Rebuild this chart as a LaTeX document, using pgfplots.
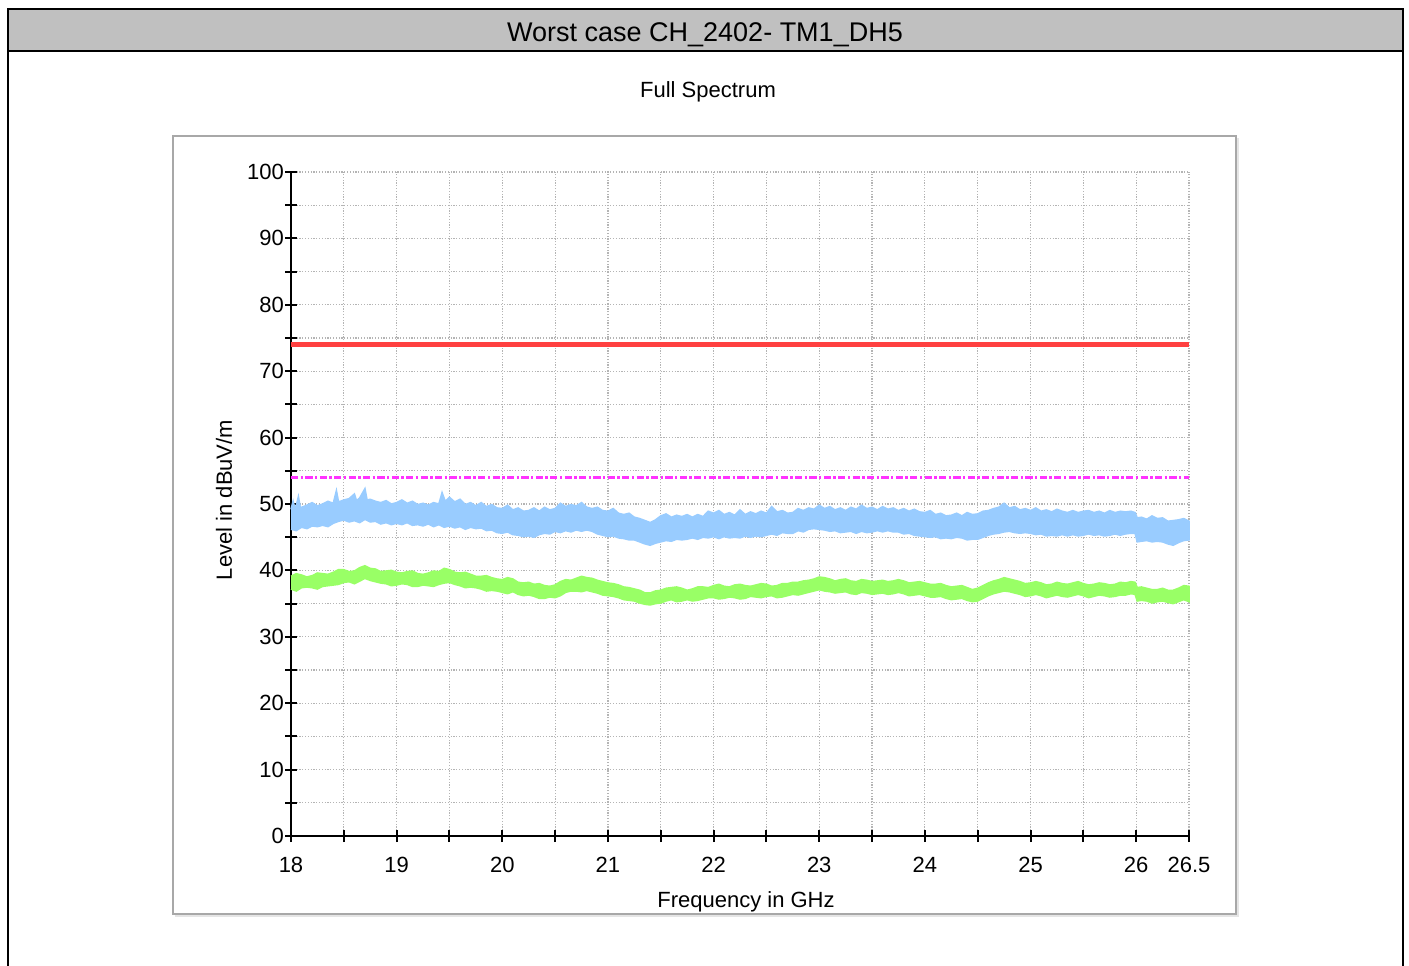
\documentclass[border=0pt]{standalone}
\usepackage{fontspec}
\setmainfont{Liberation Sans}
\usepackage{pgfplots}
\usepackage{pgfplotstable}
\pgfplotsset{compat=1.18}
\definecolor{hdrgray}{HTML}{C0C0C0}
\definecolor{boxgray}{HTML}{A8A8A8}
\definecolor{gridgray}{HTML}{B4B4B4}
\definecolor{avgblue}{HTML}{99CCFF}
\definecolor{avggreen}{HTML}{99FF66}
\definecolor{limred}{HTML}{FF4040}
\definecolor{limmag}{HTML}{FF33FF}

% peak trace, upper and lower edge of the band
\pgfplotstableread{
x y
18.00 49.2
18.02 50.4
18.04 49.1
18.07 51.1
18.09 49.3
18.10 49.5
18.15 49.8
18.20 50.2
18.25 49.7
18.30 50.0
18.35 50.4
18.40 50.1
18.43 52.0
18.45 50.3
18.50 50.6
18.55 50.8
18.60 51.5
18.62 50.5
18.65 50.9
18.70 52.3
18.72 50.6
18.75 50.7
18.80 50.4
18.85 50.2
18.90 50.5
18.95 50.0
19.00 50.2
19.05 50.6
19.10 50.1
19.15 50.4
19.20 49.9
19.25 50.1
19.30 49.8
19.35 50.2
19.40 50.0
19.43 51.7
19.46 50.4
19.50 51.0
19.55 50.3
19.60 50.7
19.65 49.9
19.70 50.2
19.75 49.7
19.80 50.2
19.85 49.6
19.90 49.9
19.95 49.4
20.00 49.3
20.05 49.8
20.10 49.1
20.15 49.4
20.20 48.9
20.25 49.0
20.30 49.4
20.35 48.9
20.40 49.5
20.45 49.1
20.50 49.3
20.55 50.1
20.60 49.6
20.65 49.9
20.70 49.7
20.75 50.2
20.80 49.5
20.85 49.3
20.90 49.5
20.95 49.0
21.00 48.9
21.05 49.3
21.10 48.6
21.15 48.4
21.20 48.6
21.25 48.0
21.30 47.8
21.35 47.5
21.40 47.2
21.45 47.6
21.50 48.2
21.55 48.5
21.60 48.0
21.65 48.3
21.70 48.1
21.75 48.4
21.80 48.0
21.85 48.4
21.90 48.1
21.95 48.9
22.00 48.6
22.05 49.0
22.10 48.4
22.15 48.7
22.20 48.3
22.25 49.1
22.30 48.4
22.35 48.8
22.40 48.5
22.45 48.9
22.50 48.6
22.55 49.6
22.60 48.8
22.65 49.0
22.70 48.6
22.75 48.7
22.80 49.3
22.85 49.0
22.90 49.4
22.95 49.2
23.00 49.8
23.05 49.3
23.10 49.6
23.15 49.1
23.20 49.4
23.25 49.0
23.30 49.5
23.35 49.2
23.40 49.8
23.45 49.3
23.50 49.5
23.55 49.1
23.60 49.6
23.65 49.2
23.70 49.4
23.75 49.0
23.80 49.3
23.85 48.9
23.90 49.2
23.95 48.8
24.00 48.7
24.05 49.0
24.10 48.4
24.15 48.6
24.20 48.2
24.25 48.3
24.30 48.6
24.35 48.2
24.40 48.7
24.45 48.4
24.50 48.5
24.55 48.9
24.60 49.0
24.65 49.3
24.70 49.5
24.75 50.1
24.80 49.4
24.85 49.6
24.90 49.1
24.95 49.3
25.00 49.0
25.05 49.4
25.10 48.9
25.15 49.1
25.20 48.8
25.25 49.2
25.30 48.9
25.35 48.7
25.40 49.0
25.45 48.7
25.50 48.9
25.55 49.0
25.60 48.7
25.65 48.9
25.70 48.6
25.75 49.0
25.80 48.7
25.85 48.9
25.90 48.8
25.95 48.9
25.99 48.7
26.01 47.9
26.05 48.0
26.10 47.7
26.15 48.2
26.20 47.8
26.25 47.9
26.30 47.4
26.35 47.5
26.40 47.6
26.45 47.8
26.50 47.4
}\peakhi

\pgfplotstableread{
x y
18.00 46.2
18.05 46.0
18.10 46.5
18.15 46.3
18.20 46.7
18.25 46.6
18.30 46.8
18.35 46.6
18.40 47.1
18.45 47.4
18.50 47.6
18.55 47.3
18.60 47.5
18.65 47.2
18.70 47.7
18.75 47.3
18.80 47.4
18.85 47.0
18.90 47.2
18.95 46.9
19.00 47.1
19.05 46.9
19.10 47.2
19.15 46.8
19.20 46.9
19.25 46.7
19.30 47.0
19.35 46.6
19.40 46.9
19.45 46.5
19.50 46.7
19.55 46.4
19.60 46.6
19.65 46.2
19.70 46.5
19.75 46.3
19.80 46.4
19.85 46.0
19.90 46.1
19.95 45.7
20.00 45.6
20.05 45.8
20.10 45.4
20.15 45.3
20.20 45.1
20.25 45.2
20.30 45.0
20.35 45.4
20.40 45.6
20.45 45.5
20.50 45.9
20.55 45.7
20.60 46.0
20.65 45.8
20.70 46.1
20.75 45.9
20.80 46.1
20.85 45.9
20.90 45.5
20.95 45.3
21.00 45.1
21.05 45.2
21.10 44.9
21.15 44.8
21.20 44.6
21.25 44.6
21.30 44.3
21.35 44.0
21.40 43.8
21.45 44.1
21.50 44.3
21.55 44.5
21.60 44.4
21.65 44.7
21.70 44.6
21.75 44.7
21.80 44.9
21.85 44.7
21.90 45.0
21.95 44.9
22.00 45.1
22.05 44.8
22.10 45.1
22.15 44.9
22.20 45.0
22.25 44.9
22.30 45.2
22.35 45.0
22.40 45.2
22.45 45.1
22.50 45.3
22.55 45.5
22.60 45.3
22.65 45.7
22.70 45.6
22.75 45.6
22.80 46.0
22.85 45.8
22.90 46.2
22.95 46.3
23.00 46.2
23.05 46.1
23.10 45.9
23.15 46.0
23.20 45.7
23.25 45.8
23.30 45.9
23.35 45.6
23.40 45.9
23.45 45.7
23.50 45.8
23.55 46.0
23.60 45.8
23.65 46.0
23.70 45.8
23.75 45.8
23.80 45.5
23.85 45.6
23.90 45.3
23.95 45.2
24.00 45.1
24.05 45.0
24.10 45.1
24.15 44.8
24.20 44.9
24.25 44.8
24.30 45.0
24.35 44.9
24.40 44.6
24.45 44.7
24.50 44.7
24.55 45.0
24.60 45.3
24.65 45.5
24.70 45.6
24.75 45.8
24.80 45.9
24.85 45.7
24.90 45.6
24.95 45.7
25.00 45.6
25.05 45.4
25.10 45.5
25.15 45.2
25.20 45.3
25.25 45.2
25.30 45.4
25.35 45.2
25.40 45.4
25.45 45.2
25.50 45.3
25.55 45.5
25.60 45.3
25.65 45.4
25.70 45.2
25.75 45.3
25.80 45.5
25.85 45.3
25.90 45.5
25.95 45.6
25.99 45.6
26.01 44.3
26.05 44.4
26.10 44.5
26.15 44.3
26.20 44.4
26.25 44.3
26.30 44.0
26.35 43.8
26.40 44.2
26.45 44.5
26.50 44.6
}\peaklo

% average trace, upper and lower edge
\pgfplotstableread{
x y
18.0 39.1
18.05 39.5
18.1 39.3
18.15 39.0
18.2 39.2
18.25 39.6
18.3 39.5
18.35 39.4
18.4 39.7
18.45 40.1
18.5 40.1
18.55 39.8
18.6 39.9
18.65 40.4
18.7 40.7
18.75 40.3
18.8 40.2
18.85 39.8
18.9 39.9
18.95 40.0
19.0 39.7
19.05 39.6
19.1 39.8
19.15 39.9
19.2 39.5
19.25 39.4
19.3 39.6
19.35 39.9
19.4 39.8
19.45 40.3
19.5 40.1
19.55 39.7
19.6 39.6
19.65 39.7
19.7 39.4
19.75 39.1
19.8 39.1
19.85 39.2
19.9 38.9
19.95 38.7
20.0 38.6
20.05 38.9
20.1 38.7
20.15 38.2
20.2 38.1
20.25 38.2
20.3 37.9
20.35 38.0
20.4 37.7
20.45 37.6
20.5 37.8
20.55 38.3
20.6 38.6
20.65 38.5
20.7 38.8
20.75 39.1
20.8 38.9
20.85 38.8
20.9 38.5
20.95 38.3
21.0 38.1
21.05 38.0
21.1 37.8
21.15 37.5
21.2 37.4
21.25 37.2
21.3 37.0
21.35 36.6
21.4 36.6
21.45 36.9
21.5 37.0
21.55 37.3
21.6 37.4
21.65 37.5
21.7 37.3
21.75 37.0
21.8 37.2
21.85 37.5
21.9 37.5
21.95 37.4
22.0 37.7
22.05 37.9
22.1 37.6
22.15 37.5
22.2 37.8
22.25 37.9
22.3 37.7
22.35 37.6
22.4 37.8
22.45 38.0
22.5 37.9
22.55 37.6
22.6 37.7
22.65 38.0
22.7 38.0
22.75 38.2
22.8 38.2
22.85 38.4
22.9 38.5
22.95 38.7
23.0 39.0
23.05 38.9
23.1 38.7
23.15 38.4
23.2 38.6
23.25 38.7
23.3 38.4
23.35 38.3
23.4 38.6
23.45 38.5
23.5 38.3
23.55 38.4
23.6 38.5
23.65 38.3
23.7 38.4
23.75 38.6
23.8 38.4
23.85 38.1
23.9 38.2
23.95 38.3
24.0 38.1
24.05 37.9
24.1 37.9
24.15 38.0
24.2 37.7
24.25 37.5
24.3 37.6
24.35 37.7
24.4 37.4
24.45 37.1
24.5 37.3
24.55 37.7
24.6 38.1
24.65 38.4
24.7 38.6
24.75 38.9
24.8 38.7
24.85 38.5
24.9 38.3
24.95 38.0
25.0 38.1
25.05 38.3
25.1 38.1
25.15 37.8
25.2 37.9
25.25 38.2
25.3 38.0
25.35 37.9
25.4 38.1
25.45 38.3
25.5 38.0
25.55 37.8
25.6 37.9
25.65 38.1
25.7 38.0
25.75 37.8
25.8 37.9
25.85 38.2
25.9 38.1
25.95 38.3
25.99 38.2
26.01 37.4
26.05 37.5
26.1 37.3
26.15 37.1
26.2 37.1
26.25 37.3
26.3 37.0
26.35 37.0
26.4 37.3
26.45 37.7
26.5 37.6
}\avghi

\pgfplotstableread{
x y
18.0 37.2
18.05 36.9
18.1 37.4
18.15 37.5
18.2 37.4
18.25 37.2
18.3 37.6
18.35 37.7
18.4 37.8
18.45 37.9
18.5 38.2
18.55 38.3
18.6 38.0
18.65 38.4
18.7 38.8
18.75 38.5
18.8 38.3
18.85 38.1
18.9 38.0
18.95 37.7
19.0 37.8
19.05 38.0
19.1 37.9
19.15 37.6
19.2 37.6
19.25 37.8
19.3 37.7
19.35 37.6
19.4 37.9
19.45 38.1
19.5 38.2
19.55 37.9
19.6 37.7
19.65 37.4
19.7 37.5
19.75 37.4
19.8 37.2
19.85 36.9
19.9 37.0
19.95 36.9
20.0 36.7
20.05 36.5
20.1 36.8
20.15 36.4
20.2 36.2
20.25 36.3
20.3 36.1
20.35 35.8
20.4 35.8
20.45 36.0
20.5 35.9
20.55 36.2
20.6 36.7
20.65 36.9
20.7 36.9
20.75 36.8
20.8 37.0
20.85 36.8
20.9 36.6
20.95 36.3
21.0 36.2
21.05 36.1
21.1 35.9
21.15 35.6
21.2 35.5
21.25 35.4
21.3 35.1
21.35 34.9
21.4 34.8
21.45 35.0
21.5 35.1
21.55 35.4
21.6 35.6
21.65 35.3
21.7 35.4
21.75 35.6
21.8 35.4
21.85 35.5
21.9 35.7
21.95 35.9
22.0 35.9
22.05 35.7
22.1 35.8
22.15 36.0
22.2 35.9
22.25 35.7
22.3 35.8
22.35 36.1
22.4 36.0
22.45 35.9
22.5 36.1
22.55 36.2
22.6 35.9
22.65 36.0
22.7 36.2
22.75 36.4
22.8 36.3
22.85 36.5
22.9 36.7
22.95 36.9
23.0 37.1
23.05 36.9
23.1 36.8
23.15 36.6
23.2 36.7
23.25 36.8
23.3 36.5
23.35 36.4
23.4 36.7
23.45 36.6
23.5 36.4
23.55 36.5
23.6 36.6
23.65 36.4
23.7 36.5
23.75 36.7
23.8 36.5
23.85 36.2
23.9 36.3
23.95 36.4
24.0 36.2
24.05 36.0
24.1 36.0
24.15 36.1
24.2 35.8
24.25 35.6
24.3 35.7
24.35 35.8
24.4 35.5
24.45 35.3
24.5 35.4
24.55 35.8
24.6 36.2
24.65 36.5
24.7 36.7
24.75 36.9
24.8 36.8
24.85 36.6
24.9 36.4
24.95 36.1
25.0 36.2
25.05 36.4
25.1 36.2
25.15 35.9
25.2 36.1
25.25 36.3
25.3 36.1
25.35 36.0
25.4 36.2
25.45 36.4
25.5 36.2
25.55 35.9
25.6 36.1
25.65 36.3
25.7 36.2
25.75 36.0
25.8 36.1
25.85 36.3
25.9 36.3
25.95 36.5
25.99 36.4
26.01 35.4
26.05 35.5
26.1 35.4
26.15 35.1
26.2 35.3
26.25 35.4
26.3 35.2
26.35 35.0
26.4 35.3
26.45 35.6
26.5 35.3
}\avglo

% each band as one closed outline: upper edge, then lower edge backwards
\pgfplotstablesort[sort key=x, sort cmp=float >]{\peaklorev}{\peaklo}
\pgfplotstablevertcat{\peakhi}{\peaklorev}
\pgfplotstablesort[sort key=x, sort cmp=float >]{\avglorev}{\avglo}
\pgfplotstablevertcat{\avghi}{\avglorev}

\begin{document}
\begin{tikzpicture}
\useasboundingbox (0,0) rectangle (704.5pt,482.5pt);
% outer frame with grey header
\fill[hdrgray] (4pt,457pt) rectangle (701.5pt,478pt);
\draw[line width=1pt] (4pt,-2pt) -- (4pt,478pt) -- (701.5pt,478pt) -- (701.5pt,-2pt);
\draw[line width=1pt] (4pt,457pt) -- (701.5pt,457pt);
\node[font=\fontsize{13.5}{16}\selectfont] at (352.5pt,465pt) {Worst case CH\_2402- TM1\_DH5};
\node[font=\fontsize{11}{13}\selectfont] at (354pt,436.5pt) {Full Spectrum};
% inner plot box
\draw[gray!20, line width=1pt] (87.5pt,24.5pt) -- (619pt,24.5pt) -- (619pt,413.5pt);
\draw[boxgray, line width=1pt] (86.5pt,25.5pt) rectangle (618pt,414.5pt);

\begin{axis}[at={(145.5pt,64.5pt)}, anchor=south west,
  scale only axis, width=449pt, height=332pt,
  xmin=18, xmax=26.5, ymin=0, ymax=100,
  axis x line*=bottom, axis y line*=left,
  axis line style={black, line width=1pt, -},
  xtick={18,18.5,19,19.5,20,20.5,21,21.5,22,22.5,23,23.5,24,24.5,25,25.5,26,26.5},
  xticklabels={18,,19,,20,,21,,22,,23,,24,,25,,26,26.5},
  ytick={0,5,10,15,20,25,30,35,40,45,50,55,60,65,70,75,80,85,90,95,100},
  yticklabels={0,,10,,20,,30,,40,,50,,60,,70,,80,,90,,100},
  tick align=center, major tick length=6pt,
  tick style={black, line width=1pt},
  tick label style={font=\fontsize{11}{13}\selectfont},
  xticklabel style={yshift=-4pt}, yticklabel style={xshift=3pt},
  /pgf/number format/assume math mode=true,
  grid=major, grid style={gridgray, line width=0.6pt, dash pattern=on 0.6pt off 0.8pt},
  clip=false]
  \addplot[fill=avgblue, draw=avgblue, line width=0.8pt] table {\peakhi};
  \addplot[fill=avggreen, draw=avggreen, line width=0.8pt] table {\avghi};
  \addplot[draw=limmag, line width=1.2pt, dash pattern=on 3.6pt off 1.2pt on 1.2pt off 1.2pt]
    coordinates {(18,54) (26.5,54)};
  \addplot[draw=limred, line width=2.2pt] coordinates {(18,74) (26.5,74)};
\end{axis}
\node[rotate=90, font=\fontsize{11}{13}\selectfont] at (112pt,232.5pt) {Level in dBuV/m};
\node[anchor=base, font=\fontsize{11}{13}\selectfont] at (373pt,29pt) {Frequency in GHz};
\end{tikzpicture}
\end{document}
